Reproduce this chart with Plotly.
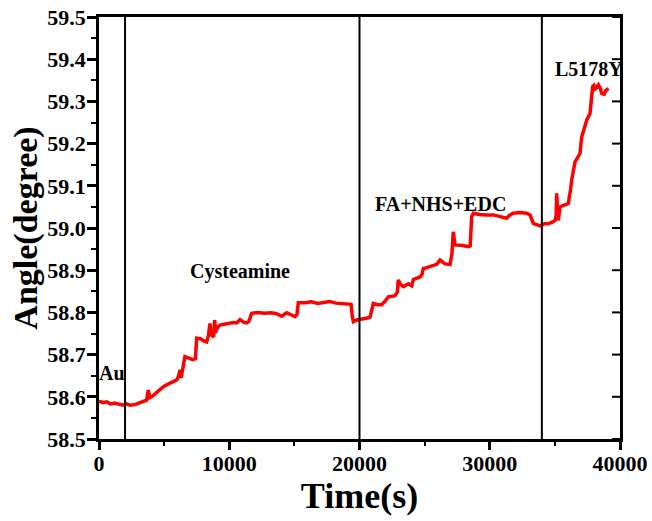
import plotly.graph_objects as go

# ---- data ----
time_s = [0, 300, 600, 900, 1200, 1500, 1866, 2100, 2400, 2800, 3100, 3400, 3650, 3785, 3900,
          4045, 4400, 4700, 4940, 5300, 5600, 5965, 6100, 6220, 6300, 6350, 6450, 6600, 6900,
          7200, 7400, 7500, 7800, 8000, 8270, 8400, 8520, 8600, 8800, 8880, 8950, 9100, 9290,
          9600, 10000, 10300, 10570, 10830, 11100, 11340, 11500, 11720, 12200, 12700, 13200,
          13640, 14030, 14410, 14700, 15050, 15200, 15300, 15800, 16300, 16800, 17220, 17700,
          18200, 18700, 19020, 19350, 19450, 19530, 19800, 20040, 20500, 20810, 21000, 21060,
          21400, 21700, 22000, 22210, 22500, 22730, 22900, 22980, 23150, 23370, 23750, 24010,
          24130, 24400, 24650, 24800, 24900, 25150, 25410, 25700, 25930, 26180, 26400, 26560,
          26950, 27100, 27200, 27260, 27330, 27800, 28350, 28500, 28610, 28740, 29200, 29770,
          30280, 30800, 31300, 31500, 31810, 32300, 32830, 33090, 33250, 33350, 33600, 33860,
          34200, 34500, 34880, 35010, 35100, 35140, 35200, 35270, 35330, 35390, 35700, 36030,
          36200, 36290, 36550, 36800, 36930, 37060, 37300, 37450, 37700, 37800, 37900, 38000,
          38100, 38210, 38340, 38500, 38600, 38780, 38900, 39110]
angle_deg = [58.590, 58.586, 58.588, 58.583, 58.585, 58.582, 58.580, 58.583, 58.580, 58.582,
             58.585, 58.588, 58.592, 58.616, 58.598, 58.600, 58.610, 58.618, 58.624, 58.630,
             58.634, 58.640, 58.648, 58.664, 58.645, 58.660, 58.670, 58.695, 58.692, 58.688,
             58.690, 58.739, 58.738, 58.733, 58.730, 58.745, 58.774, 58.748, 58.742, 58.782,
             58.752, 58.765, 58.770, 58.772, 58.773, 58.776, 58.775, 58.783, 58.777, 58.775,
             58.778, 58.798, 58.800, 58.798, 58.799, 58.797, 58.791, 58.799, 58.795, 58.790,
             58.795, 58.823, 58.823, 58.825, 58.821, 58.823, 58.826, 58.822, 58.821, 58.820,
             58.819, 58.790, 58.778, 58.782, 58.783, 58.786, 58.789, 58.815, 58.821, 58.818,
             58.818, 58.828, 58.837, 58.838, 58.840, 58.848, 58.877, 58.866, 58.861, 58.868,
             58.863, 58.878, 58.882, 58.884, 58.890, 58.904, 58.906, 58.909, 58.911, 58.914,
             58.924, 58.918, 58.915, 58.914, 58.940, 58.991, 58.965, 58.960, 58.959, 58.956,
             58.958, 59.027, 59.035, 59.032, 59.031, 59.031, 59.027, 59.023, 59.030, 59.035,
             59.037, 59.035, 59.031, 59.020, 59.011, 59.008, 59.005, 59.010, 59.010, 59.015,
             59.018, 59.030, 59.082, 59.040, 59.018, 59.035, 59.050, 59.054, 59.058, 59.090,
             59.114, 59.157, 59.170, 59.177, 59.216, 59.240, 59.256, 59.272, 59.300, 59.335,
             59.338, 59.330, 59.333, 59.339, 59.330, 59.319, 59.317, 59.325, 59.331]

event_times = [2000, 20000, 34000]
stage_labels = ["Au", "Cysteamine", "FA+NHS+EDC", "L5178Y"]
label_x = [1000, 10830, 26250, 37620]
label_y = [58.656, 58.896, 59.057, 59.377]

x_ticks = [0, 10000, 20000, 30000, 40000]
y_ticks = [58.5, 58.6, 58.7, 58.8, 58.9, 59.0, 59.1, 59.2, 59.3, 59.4, 59.5]

FONT = "Liberation Serif, Times New Roman, serif"

fig = go.Figure()
fig.add_trace(go.Scatter(x=time_s, y=angle_deg, mode="lines",
                         line=dict(color="#ff0000", width=3.5), showlegend=False,
                         hoverinfo="skip"))

for t in event_times:
    fig.add_shape(type="line", x0=t, x1=t, y0=0, y1=1, xref="x", yref="paper",
                  line=dict(color="black", width=2))

# inward-pointing ticks on the right frame
for v in y_ticks:
    fig.add_shape(type="line", x0=1, x1=1 - 8 / 521, y0=v, y1=v, xref="paper", yref="y",
                  line=dict(color="black", width=2))

for txt, lx, ly in zip(stage_labels, label_x, label_y):
    fig.add_annotation(x=lx, y=ly, text="<b>" + txt + "</b>", showarrow=False,
                       font=dict(family=FONT, size=20, color="black"))

fig.update_layout(
    width=652, height=521,
    margin=dict(l=99, r=32, t=17, b=82),
    paper_bgcolor="white", plot_bgcolor="white",
    font=dict(family=FONT, color="black"),
    xaxis=dict(range=[0, 40000], tickvals=x_ticks, ticktext=["<b>%d</b>" % v for v in x_ticks],
               ticks="outside", ticklen=8, tickwidth=2.5, tickcolor="black",
               minor=dict(ticks="outside", ticklen=4, tickwidth=2, dtick=5000, tick0=0,
                          tickcolor="black", showgrid=False),
               showline=True, linewidth=2.5, linecolor="black", mirror=True,
               showgrid=False, zeroline=False, automargin=False,
               ticklabelstandoff=-5,
               tickfont=dict(family=FONT, size=22, color="black"),
               title=dict(text="<b>Time(s)</b>", font=dict(family=FONT, size=36, color="black"),
                          standoff=4)),
    yaxis=dict(range=[58.5, 59.5], tickvals=y_ticks, ticktext=["<b>%.1f</b>" % v for v in y_ticks],
               ticks="outside", ticklen=9, tickwidth=2.5, tickcolor="black",
               minor=dict(ticks="outside", ticklen=5, tickwidth=2, dtick=0.05, tick0=58.5,
                          tickcolor="black", showgrid=False),
               showline=True, linewidth=2.5, linecolor="black", mirror=True,
               showgrid=False, zeroline=False, automargin=False,
               ticklabelstandoff=-3,
               tickfont=dict(family=FONT, size=22, color="black"),
               title=dict(text="<b>Angle(degree)</b>", font=dict(family=FONT, size=34, color="black"),
                          standoff=0)),
)

fig.write_html("out.html", config={"displayModeBar": False},
               post_script="document.body.style.margin='0';document.body.style.padding='0';")
